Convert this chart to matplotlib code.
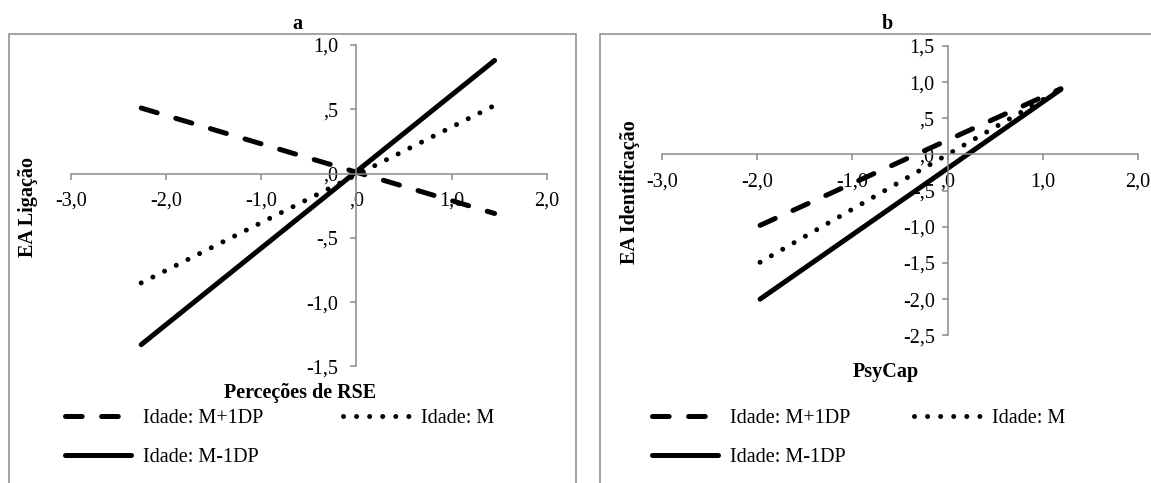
import matplotlib
matplotlib.use("Agg")
import matplotlib.pyplot as plt
from matplotlib.patches import Rectangle

# simple slopes: age moderation (Idade: M+1DP / M / M-1DP)
a_x = [-2.26, 1.45]
a_high = [0.51, -0.31]
a_mean = [-0.85, 0.53]
a_low = [-1.33, 0.88]

b_x = [-1.97, 1.19]
b_high = [-0.98, 0.91]
b_mean = [-1.49, 0.90]
b_low = [-2.00, 0.90]

series_labels = ["Idade: M+1DP", "Idade: M", "Idade: M-1DP"]

x_ticks = [-3.0, -2.0, -1.0, 0.0, 1.0, 2.0]
a_y_ticks = [-1.5, -1.0, -0.5, 0.0, 0.5, 1.0]
b_y_ticks = [-2.5, -2.0, -1.5, -1.0, -0.5, 0.0, 0.5, 1.0, 1.5]

W, H = 1151, 483
plt.rcParams['font.family'] = ['Liberation Serif', 'DejaVu Serif']
plt.rcParams['lines.scale_dashes'] = False
FS = 14.5
GRAY = '#8a8a8a'
LW = 3.6


def fx(px):
    return px / W


def fy(py):
    return 1 - py / H


def pt_label(v):
    s = f"{v:.1f}".replace('.', ',')
    if s.startswith('0'):
        s = s[1:]
    elif s.startswith('-0'):
        s = '-' + s[2:]
    return s


def style_axes(ax, xlim, ylim, yticks, ypad):
    ax.set_xlim(*xlim)
    ax.set_ylim(*ylim)
    for side in ['top', 'right']:
        ax.spines[side].set_visible(False)
    for side in ['left', 'bottom']:
        ax.spines[side].set_position(('data', 0))
        ax.spines[side].set_color(GRAY)
        ax.spines[side].set_linewidth(1.1)
    ax.set_xticks(x_ticks)
    ax.set_xticklabels([pt_label(v) for v in x_ticks])
    ax.set_yticks(yticks)
    ax.set_yticklabels([pt_label(v) for v in yticks])
    ax.tick_params(direction='out', length=4.3, width=1.1, color=GRAY,
                   labelsize=FS)
    ax.tick_params(axis='x', pad=8.5)
    ax.tick_params(axis='y', pad=ypad)
    ax.patch.set_alpha(0)


def draw_lines(ax, x, high, mean, low):
    h1, = ax.plot(x, high, color='black', lw=LW, dashes=(12, 14),
                  dash_capstyle='round', solid_capstyle='round')
    h2, = ax.plot(x, mean, color='black', lw=LW, dashes=(0.01, 9.4),
                  dash_capstyle='round')
    h3, = ax.plot(x, low, color='black', lw=LW, solid_capstyle='round')
    return h1, h2, h3


fig = plt.figure(figsize=(W / 100, H / 100), dpi=100)

# chart frames
fig.patches.append(Rectangle((fx(9), fy(530)), fx(576) - fx(9), fy(34) - fy(530),
                             transform=fig.transFigure, fill=False,
                             edgecolor=GRAY, lw=1.1))
fig.patches.append(Rectangle((fx(600), fy(530)), fx(1200) - fx(600), fy(34) - fy(530),
                             transform=fig.transFigure, fill=False,
                             edgecolor=GRAY, lw=1.1))

ax_a = fig.add_axes([fx(70.7), fy(366.5), fx(547) - fx(70.7), fy(45) - fy(366.5)])
style_axes(ax_a, (-3, 2), (-1.5, 1.0), a_y_ticks, 9)
ha = draw_lines(ax_a, a_x, a_high, a_mean, a_low)

ax_b = fig.add_axes([fx(662), fy(335.3), fx(1138) - fx(662), fy(46) - fy(335.3)])
style_axes(ax_b, (-3, 2), (-2.5, 1.5), b_y_ticks, 5)
hb = draw_lines(ax_b, b_x, b_high, b_mean, b_low)

# titles and axis labels
fig.text(fx(297), fy(24), 'a', ha='center', va='center', fontsize=FS, weight='bold')
fig.text(fx(887), fy(24), 'b', ha='center', va='center', fontsize=FS, weight='bold')
fig.text(fx(28), fy(207), 'EA Ligação', rotation=90, ha='center', va='center',
         fontsize=FS, weight='bold')
fig.text(fx(630), fy(192), 'EA Identificação', rotation=90, ha='center', va='center',
         fontsize=FS, weight='bold')
fig.text(fx(300), fy(393), 'Perceções de RSE', ha='center', va='center',
         fontsize=FS, weight='bold')
fig.text(fx(886), fy(372), 'PsyCap', ha='center', va='center',
         fontsize=FS, weight='bold')

# legends (row-major order: dashed, dotted / solid)
for handles, x0, colsp in [(ha, 65, 4.0), (hb, 652, 3.2)]:
    order = [handles[0], handles[2], handles[1]]
    labels = [series_labels[0], series_labels[2], series_labels[1]]
    fig.legend(order, labels, loc='upper left',
               bbox_to_anchor=(fx(x0), fy(409)), frameon=False, ncol=2,
               fontsize=FS, handlelength=3.3, handletextpad=0.55,
               columnspacing=colsp, labelspacing=1.0, borderpad=0,
               borderaxespad=0)

fig.savefig('out.png', dpi=100)
